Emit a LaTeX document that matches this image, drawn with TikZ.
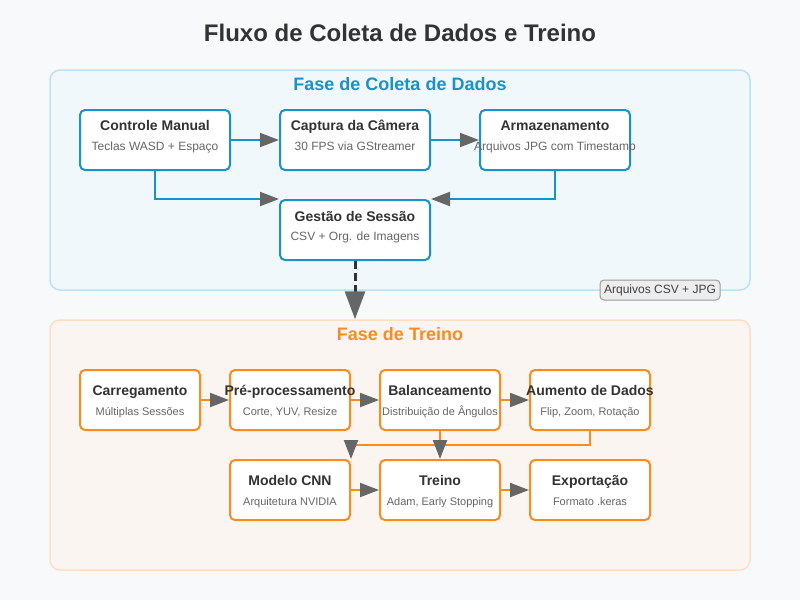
\documentclass[tikz,border=0pt]{standalone}
\usepackage{fontspec}
\setmainfont{Liberation Sans}
\usetikzlibrary{arrows.meta}
\definecolor{bgc}{HTML}{F8F9FA}
\definecolor{bluec}{HTML}{1992C8}
\definecolor{bluefill}{HTML}{F1F8FB}
\definecolor{blueline}{HTML}{BDE2F1}
\definecolor{orangec}{HTML}{F98C1F}
\definecolor{orangefill}{HTML}{FBF5F1}
\definecolor{orangeline}{HTML}{FCDFC6}
\definecolor{darkc}{HTML}{333333}
\definecolor{subc}{HTML}{666666}
\definecolor{tipc}{HTML}{666666}
\tikzset{
  panel/.style={draw, rounded corners=10pt, line width=1.5pt, minimum width=700pt, inner sep=0pt},
  box/.style={draw, fill=white, rounded corners=5pt, line width=2pt, minimum height=60pt, inner sep=0pt},
  bluebox/.style={box, draw=bluec, minimum width=150pt},
  orangebox/.style={box, draw=orangec, minimum width=120pt},
  boxtitle/.style={anchor=base, text=darkc, font=\bfseries\fontsize{14}{16}\selectfont, inner sep=0pt},
  boxsub/.style={anchor=base, text=subc, font=\fontsize{12}{14}\selectfont, inner sep=0pt},
  smallsub/.style={boxsub, font=\fontsize{11}{13}\selectfont},
  phase/.style={anchor=base, font=\bfseries\fontsize{18}{21}\selectfont, inner sep=0pt},
  flow/.style={line width=2pt, -{Triangle[length=19pt,width=14pt,color=tipc]}},
}
\begin{document}
\begin{tikzpicture}[x=1pt,y=-1pt]
  \fill[bgc] (0,0) rectangle (800,600);
  \useasboundingbox (0,0) rectangle (800,600);
  \node[anchor=base, inner sep=0pt, text=darkc, font=\bfseries\fontsize{24}{28}\selectfont] (titulo) at (400,41) {Fluxo de Coleta de Dados e Treino};

  \node[panel, draw=blueline, fill=bluefill, minimum height=220pt] (coleta) at (400,180) {};
  \node[phase, text=bluec] (coleta-t) at (400,90) {Fase de Coleta de Dados};
  \node[panel, draw=orangeline, fill=orangefill, minimum height=250pt] (treino) at (400,445) {};
  \node[phase, text=orangec] (treino-t) at (400,340) {Fase de Treino};

  \node[bluebox] (ctrl) at (155,140) {};
  \node[boxtitle] (ctrl-t) at (155,130) {Controle Manual};
  \node[boxsub] (ctrl-s) at (155,150) {Teclas WASD + Espaço};
  \node[bluebox] (cam) at (355,140) {};
  \node[boxtitle] (cam-t) at (355,130) {Captura da Câmera};
  \node[boxsub] (cam-s) at (355,150) {30 FPS via GStreamer};
  \node[bluebox] (arm) at (555,140) {};
  \node[boxtitle] (arm-t) at (555,130) {Armazenamento};
  \node[boxsub] (arm-s) at (555,150) {Arquivos JPG com Timestamp};
  \node[bluebox] (sess) at (355,230) {};
  \node[boxtitle] (sess-t) at (355,221) {Gestão de Sessão};
  \node[boxsub] (sess-s) at (355,240) {CSV + Org. de Imagens};

  \begin{scope}[draw=bluec]
    \draw[flow] (ctrl) to (cam);
    \draw[flow] (cam) to (arm);
    \draw[flow] (ctrl.south) |- (sess.north west);
    \draw[flow] (arm.south) |- (sess.north east);
  \end{scope}

  \draw[draw=darkc, line width=3pt, dash pattern=on 8pt off 4pt, -{Triangle[length=28pt,width=20pt,color=tipc]}] (sess.south) to (sess.south |- treino.north);
  \node[draw=black!40, fill=black!7, rounded corners=4pt, line width=1pt, text=black!75, font=\fontsize{12}{14}\selectfont, minimum width=120pt, minimum height=20pt, inner sep=0pt] (arquivos) at (660,290) {Arquivos CSV + JPG};

  \node[orangebox] (carr) at (140,400) {};
  \node[boxtitle] (carr-t) at (140,395) {Carregamento};
  \node[smallsub] (carr-s) at (140,415) {Múltiplas Sessões};
  \node[orangebox] (pre) at (290,400) {};
  \node[boxtitle] (pre-t) at (290,395) {Pré-processamento};
  \node[smallsub] (pre-s) at (290,415) {Corte, YUV, Resize};
  \node[orangebox] (bal) at (440,400) {};
  \node[boxtitle] (bal-t) at (440,395) {Balanceamento};
  \node[smallsub] (bal-s) at (440,415) {Distribuição de Ângulos};
  \node[orangebox] (aum) at (590,400) {};
  \node[boxtitle] (aum-t) at (590,395) {Aumento de Dados};
  \node[smallsub] (aum-s) at (590,415) {Flip, Zoom, Rotação};
  \node[orangebox] (cnn) at (290,490) {};
  \node[boxtitle] (cnn-t) at (290,485) {Modelo CNN};
  \node[smallsub] (cnn-s) at (290,505) {Arquitetura NVIDIA};
  \node[orangebox] (trn) at (440,490) {};
  \node[boxtitle] (trn-t) at (440,485) {Treino};
  \node[smallsub] (trn-s) at (440,505) {Adam, Early Stopping};
  \node[orangebox] (exp) at (590,490) {};
  \node[boxtitle] (exp-t) at (590,485) {Exportação};
  \node[smallsub] (exp-s) at (590,505) {Formato .keras};

  \begin{scope}[draw=orangec]
    \draw[flow] (carr) to (pre);
    \draw[flow] (pre) to (bal);
    \draw[flow] (bal) to (aum);
    \draw[flow] (aum.south) -- ++(0,14) -| (cnn.north east);
    \draw[flow] (bal) to (trn);
    \draw[flow] (cnn) to (trn);
    \draw[flow] (trn) to (exp);
  \end{scope}
\end{tikzpicture}
\end{document}
